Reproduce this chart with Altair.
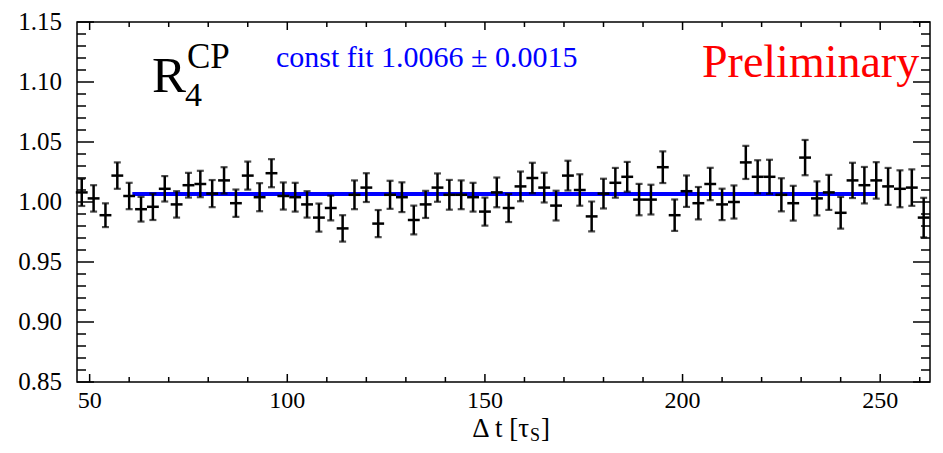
import altair as alt
import pandas as pd

# ---- data ----
bin_center = [48, 51, 54, 57, 60, 63, 66, 69, 72, 75, 78, 81, 84, 87, 90, 93, 96, 99,
              102, 105, 108, 111, 114, 117, 120, 123, 126, 129, 132, 135, 138, 141, 144, 147,
              150, 153, 156, 159, 162, 165, 168, 171, 174, 177, 180, 183, 186, 189, 192, 195,
              198, 201, 204, 207, 210, 213, 216, 219, 222, 225, 228, 231, 234, 237, 240, 243,
              246, 249, 252, 255, 258, 261]
ratio = [1.008, 1.003, 0.989, 1.022, 1.005, 0.994, 0.996, 1.011, 0.998, 1.014, 1.015, 1.007,
         1.018, 0.999, 1.022, 1.004, 1.024, 1.005, 1.004, 0.998, 0.987, 0.995, 0.978, 1.006,
         1.012, 0.982, 1.006, 1.004, 0.985, 0.998, 1.012, 1.006, 1.006, 1.004, 0.992, 1.008,
         0.995, 1.013, 1.020, 1.012, 0.997, 1.022, 1.010, 0.988, 1.007, 1.016, 1.021, 1.002,
         1.002, 1.029, 0.989, 1.009, 0.999, 1.015, 0.998, 1.000, 1.033, 1.021, 1.021, 1.006,
         0.999, 1.037, 1.003, 1.008, 0.991, 1.018, 1.014, 1.018, 1.013, 1.011, 1.012, 0.987]
ratio_err = [0.0113, 0.0110, 0.0099, 0.0110, 0.0110, 0.0103, 0.0110, 0.0106, 0.0110, 0.0103,
             0.0110, 0.0113, 0.0110, 0.0114, 0.0117, 0.0117, 0.0117, 0.0113, 0.0120, 0.0110,
             0.0117, 0.0103, 0.0110, 0.0120, 0.0120, 0.0113, 0.0117, 0.0124, 0.0120, 0.0113,
             0.0118, 0.0124, 0.0120, 0.0120, 0.0117, 0.0124, 0.0117, 0.0124, 0.0127, 0.0124,
             0.0124, 0.0124, 0.0131, 0.0124, 0.0124, 0.0124, 0.0124, 0.0131, 0.0124, 0.0132,
             0.0131, 0.0131, 0.0135, 0.0135, 0.0131, 0.0138, 0.0138, 0.0138, 0.0142, 0.0138,
             0.0145, 0.0147, 0.0142, 0.0146, 0.0132, 0.0147, 0.0152, 0.0152, 0.0154, 0.0154,
             0.0152, 0.0165]
bin_half_width = 1.5

fit_value = [1.0066]
fit_start = [60.8]
fit_end = [249.2]

x_major = [50, 100, 150, 200, 250]
x_major_labels = ["50", "100", "150", "200", "250"]
x_minor = [60, 70, 80, 90, 110, 120, 130, 140, 160, 170, 180, 190, 210, 220, 230, 240, 260]
y_major = [0.85, 0.90, 0.95, 1.00, 1.05, 1.10, 1.15]
y_major_labels = ["0.85", "0.90", "0.95", "1.00", "1.05", "1.10", "1.15"]
y_minor = [0.86, 0.87, 0.88, 0.89, 0.91, 0.92, 0.93, 0.94, 0.96, 0.97, 0.98, 0.99,
           1.01, 1.02, 1.03, 1.04, 1.06, 1.07, 1.08, 1.09, 1.11, 1.12, 1.13, 1.14]

# ---- layout ----
W, H = 853, 360
SERIF = "Liberation Serif"
xs = alt.Scale(domain=[46.8, 262.6], nice=False, zero=False)
ys = alt.Scale(domain=[0.85, 1.15], nice=False, zero=False)

df = pd.DataFrame({"x": bin_center, "ratio": ratio, "err": ratio_err})
df["lo"] = df["ratio"] - df["err"]
df["hi"] = df["ratio"] + df["err"]
df["xlo"] = df["x"] - bin_half_width
df["xhi"] = df["x"] + bin_half_width

base = alt.Chart(df)
ink = "#000000"


def X(field):
    return alt.X(field, scale=xs, axis=None)


def Y(field):
    return alt.Y(field, scale=ys, axis=None)


hbar = base.mark_rule(color=ink, strokeWidth=2.5).encode(x=X("xlo:Q"), x2="xhi:Q", y=Y("ratio:Q"))
vbar = base.mark_rule(color=ink, strokeWidth=2.5).encode(x=X("x:Q"), y=Y("lo:Q"), y2="hi:Q")
cap_lo = base.mark_tick(orient="horizontal", size=7, thickness=2.2, color=ink).encode(
    x=X("x:Q"), y=Y("lo:Q"))
cap_hi = base.mark_tick(orient="horizontal", size=7, thickness=2.2, color=ink).encode(
    x=X("x:Q"), y=Y("hi:Q"))

fit = alt.Chart(pd.DataFrame({"a": fit_start, "b": fit_end, "v": fit_value})).mark_rule(
    color="#0000ff", strokeWidth=4).encode(x=X("a:Q"), x2="b:Q", y=Y("v:Q"))


def xticks(vals, length, top):
    d = alt.Chart(pd.DataFrame({"v": vals}))
    y0, y1 = (0, length) if top else (H, H - length)
    return d.mark_rule(color=ink, strokeWidth=1.5).encode(
        x=X("v:Q"), y=alt.value(y0), y2=alt.value(y1))


def yticks(vals, length, right):
    d = alt.Chart(pd.DataFrame({"v": vals}))
    x0, x1 = (W, W - length) if right else (0, length)
    return d.mark_rule(color=ink, strokeWidth=1.5).encode(
        y=Y("v:Q"), x=alt.value(x0), x2=alt.value(x1))


ticks = [xticks(x_major, 8, False), xticks(x_minor, 5, False),
         xticks(x_major, 8, True), xticks(x_minor, 5, True),
         yticks(y_major, 17, False), yticks(y_minor, 9, False),
         yticks(y_major, 17, True), yticks(y_minor, 9, True)]

# tick labels (serif, drawn through the scales)
x_labels = alt.Chart(pd.DataFrame({"v": x_major, "t": x_major_labels})).mark_text(
    font=SERIF, fontSize=24, color=ink, align="center", baseline="alphabetic").encode(
    x=X("v:Q"), y=alt.value(H + 26), text="t:N")
y_labels = alt.Chart(pd.DataFrame({"v": y_major, "t": y_major_labels})).mark_text(
    font=SERIF, fontSize=25, color=ink, align="right", baseline="middle").encode(
    y=Y("v:Q"), x=alt.value(-15), text="t:N")


def label(text, px, py, size, color=ink, align="left"):
    return alt.Chart(pd.DataFrame({"t": [text]})).mark_text(
        font=SERIF, fontSize=size, color=color, align=align, baseline="alphabetic").encode(
        text="t:N", x=alt.value(px), y=alt.value(py))


texts = [
    label("R", 75, 70, 51),
    label("CP", 110, 46, 35),
    label("4", 108, 84, 34),
    label("const fit 1.0066 \u00b1 0.0015", 199, 45, 30, color="#0000ff"),
    label("Preliminary", 625, 55, 46, color="#ff0000"),
    label("\u0394 t [\u03c4", 452, 415, 27, align="right"),
    label("S", 453, 419, 18),
    label("]", 464, 415, 27),
]

chart = alt.layer(fit, hbar, vbar, cap_lo, cap_hi, *ticks, x_labels, y_labels, *texts).properties(
    width=W, height=H,
    autosize=alt.AutoSizeParams(type="none"),
    padding={"left": 69, "top": 14, "right": 5, "bottom": 63},
).configure_view(stroke=ink, strokeWidth=1.5)

chart.save("out.html", embed_options={"renderer": "svg", "actions": False})
